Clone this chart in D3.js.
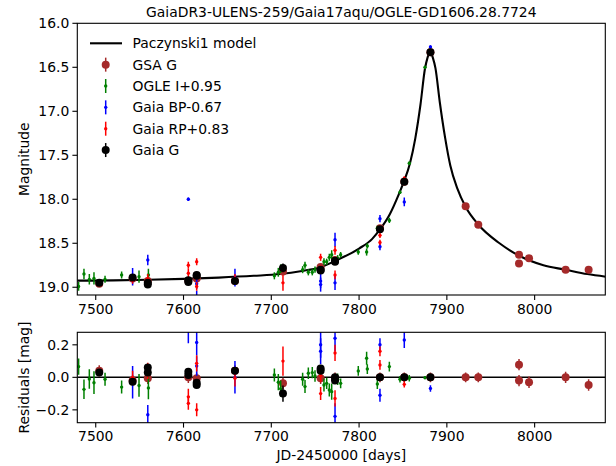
<!DOCTYPE html>
<html>
<head>
<meta charset="utf-8">
<script src="https://cdn.jsdelivr.net/npm/d3@7"></script>
<style>
  body { margin: 0; background: #fff; }
  text { font-family: "DejaVu Sans", sans-serif; }
</style>
</head>
<body>
<script>
//////////////////////////////////////////////////////////////////////////////
// Data: [day, magnitude, residual, error]

var gsaG = [
  [7504.0, 18.96, 0.040, 0.035], [7542.0, 18.90, -0.020, 0.035],
  [7559.3, 18.93, -0.006, 0.035], [7605.5, 18.93, 0.000, 0.035],
  [7615.0, 18.90, -0.005, 0.035], [7658.6, 18.93, 0.040, 0.035],
  [7713.3, 18.82, -0.037, 0.035], [7756.2, 18.77, -0.006, 0.035],
  [7772.6, 18.69, -0.005, 0.035], [7823.8, 18.33, 0.000, 0.03],
  [7851.5, 17.80, 0.000, 0.03], [7881.3, 16.33, 0.000, 0.03],
  [7921.4, 18.08, 0.000, 0.03], [7935.8, 18.29, 0.000, 0.03],
  [7982.2, 18.63, -0.020, 0.035], [7982.2, 18.73, 0.078, 0.035],
  [7993.6, 18.67, -0.030, 0.035], [8035.3, 18.80, 0.000, 0.035],
  [8061.5, 18.80, -0.047, 0.035]
];

var ogleI = [
  [7480.5, 18.99, 0.066, 0.05], [7486.6, 18.85, -0.074, 0.06],
  [7492.7, 18.91, -0.010, 0.06], [7498.0, 18.90, -0.033, 0.07],
  [7510.6, 18.91, -0.012, 0.04], [7529.5, 18.86, -0.060, 0.04],
  [7549.3, 18.88, -0.050, 0.07], [7560.0, 18.86, -0.065, 0.07],
  [7703.5, 18.87, 0.014, 0.04], [7708.0, 18.83, -0.030, 0.05],
  [7710.7, 18.79, -0.070, 0.05], [7735.7, 18.80, -0.012, 0.04],
  [7738.4, 18.75, -0.057, 0.04], [7742.2, 18.83, 0.025, 0.035],
  [7746.7, 18.83, 0.029, 0.035], [7749.8, 18.80, 0.008, 0.035],
  [7760.0, 18.71, -0.047, 0.04], [7763.1, 18.71, -0.037, 0.035],
  [7766.1, 18.66, -0.078, 0.04], [7768.8, 18.63, -0.088, 0.05],
  [7775.6, 18.67, -0.012, 0.035], [7779.0, 18.63, -0.037, 0.03],
  [7799.1, 18.60, 0.039, 0.03], [7808.6, 18.60, 0.117, 0.04],
  [7809.4, 18.53, 0.051, 0.03], [7820.8, 18.33, -0.041, 0.03],
  [7834.5, 18.24, 0.066, 0.03], [7846.6, 17.92, -0.012, 0.02],
  [7857.2, 17.59, -0.006, 0.02], [7875.1, 16.50, -0.002, 0.01]
];

var gaiaBP = [
  [7542.0, 18.88, -0.030, 0.10], [7559.3, 18.69, -0.230, 0.06],
  [7605.5, 18.00, -0.900, 0.02], [7605.5, 19.22, 0.310, 0.10],
  [7615.0, 19.12, 0.215, 0.08], [7615.0, 18.96, 0.070, 0.06],
  [7658.6, 18.89, 0.000, 0.10], [7756.2, 18.97, 0.200, 0.08],
  [7756.2, 18.93, 0.160, 0.08], [7772.6, 18.95, 0.240, 0.08],
  [7772.6, 18.46, -0.240, 0.08], [7823.8, 18.22, -0.110, 0.04],
  [7823.8, 18.54, 0.200, 0.04], [7851.5, 18.03, 0.230, 0.05],
  [7881.3, 16.27, -0.068, 0.02]
];

var gaiaRP = [
  [7542.0, 18.92, 0.000, 0.04], [7559.3, 18.90, 0.040, 0.05],
  [7605.5, 18.75, -0.160, 0.04], [7605.5, 18.84, -0.120, 0.05],
  [7615.0, 18.71, -0.200, 0.04], [7615.0, 18.99, 0.086, 0.05],
  [7658.6, 18.90, -0.006, 0.05], [7713.3, 18.95, 0.100, 0.09],
  [7756.2, 18.66, -0.100, 0.04], [7756.2, 18.79, 0.010, 0.04],
  [7772.6, 18.86, 0.150, 0.05], [7772.6, 18.58, -0.130, 0.05],
  [7823.8, 18.49, 0.160, 0.03], [7823.8, 18.41, 0.076, 0.03],
  [7851.5, 17.76, -0.043, 0.02]
];

var gaiaG = [
  [7504.0, 18.95, 0.029, 0.01], [7542.0, 18.89, -0.027, 0.01],
  [7559.3, 18.97, 0.060, 0.01], [7559.3, 18.95, 0.030, 0.01],
  [7605.5, 18.94, 0.035, 0.01], [7605.5, 18.92, 0.015, 0.01],
  [7615.0, 18.87, -0.033, 0.01], [7615.0, 18.86, -0.047, 0.01],
  [7658.6, 18.93, 0.040, 0.01], [7713.3, 18.78, -0.100, 0.05],
  [7756.2, 18.81, 0.055, 0.01], [7756.2, 18.80, 0.040, 0.01],
  [7772.6, 18.71, 0.000, 0.01], [7772.6, 18.70, -0.020, 0.01],
  [7823.8, 18.34, 0.000, 0.01], [7851.5, 17.80, 0.000, 0.01],
  [7881.3, 16.33, 0.000, 0.01]
];

// Paczynski1 model
var modelDays = [7479, 7520, 7560, 7600, 7640, 7680, 7710, 7735, 7755, 7775,
                 7800, 7815, 7824, 7835, 7845, 7851, 7858, 7864, 7870, 7875,
                 7878, 7881, 7884, 7887, 7892, 7898, 7904, 7912, 7921, 7936,
                 7960, 7983, 8010, 8035, 8060, 8081];
var modelMags = [18.925, 18.922, 18.915, 18.905, 18.89, 18.87, 18.85, 18.815, 18.775, 18.69,
                 18.56, 18.45, 18.34, 18.17, 17.95, 17.80, 17.59, 17.31, 16.92, 16.52,
                 16.39, 16.32, 16.39, 16.51, 16.90, 17.30, 17.62, 17.88, 18.08, 18.29,
                 18.50, 18.645, 18.75, 18.80, 18.85, 18.88];

var xTicks = [7500, 7600, 7700, 7800, 7900, 8000];
var magTicks = [16.0, 16.5, 17.0, 17.5, 18.0, 18.5, 19.0];
var resTicks = [0.2, 0.0, -0.2];

var series = [
  {name: "GSA G",        data: gsaG,   color: "#a52a2a", r: 4},
  {name: "OGLE I+0.95",  data: ogleI,  color: "#008000", r: 1.7},
  {name: "Gaia BP-0.67", data: gaiaBP, color: "#0000ff", r: 1.7},
  {name: "Gaia RP+0.83", data: gaiaRP, color: "#ff0000", r: 1.7},
  {name: "Gaia G",       data: gaiaG,  color: "#000000", r: 4}
];

//////////////////////////////////////////////////////////////////////////////
// Scales, panels

var width = 616, height = 466;
var left = 77.3, right = 605.3;
var top1 = 23.3, bot1 = 295;
var top2 = 332.3, bot2 = 422.7;
var fs = 13.9;

var x = d3.scaleLinear().domain([7479, 8080.5]).range([left, right]);
var yMag = d3.scaleLinear().domain([16.0, 19.088]).range([top1, bot1]);
var yRes = d3.scaleLinear().domain([-0.279, 0.277]).range([bot2, top2]);

var svg = d3.select("body").append("svg")
    .attr("width", width)
    .attr("height", height);

svg.append("rect").attr("width", width).attr("height", height).attr("fill", "#fff");

var defs = svg.append("defs");
defs.append("clipPath").attr("id", "clipTop").append("rect")
    .attr("x", left).attr("y", top1).attr("width", right - left).attr("height", bot1 - top1);
defs.append("clipPath").attr("id", "clipRes").append("rect")
    .attr("x", left).attr("y", top2).attr("width", right - left).attr("height", bot2 - top2);

function drawAxes(y0, y1, yScale, yTickVals, fmt) {
    var g = svg.append("g");
    xTicks.forEach(function(t) {
        g.append("line").attr("x1", x(t)).attr("x2", x(t)).attr("y1", y1).attr("y2", y1 + 4.9)
            .attr("stroke", "#000").attr("stroke-width", 1.1);
        g.append("text").attr("x", x(t)).attr("y", y1 + 18.5).attr("text-anchor", "middle")
            .attr("font-size", fs).text(t);
    });
    yTickVals.forEach(function(t) {
        g.append("line").attr("x1", left - 4.9).attr("x2", left).attr("y1", yScale(t)).attr("y2", yScale(t))
            .attr("stroke", "#000").attr("stroke-width", 1.1);
        g.append("text").attr("x", left - 8).attr("y", yScale(t)).attr("dy", "0.36em")
            .attr("text-anchor", "end").attr("font-size", fs).text(fmt(t));
    });
    g.append("rect").attr("x", left).attr("y", y0).attr("width", right - left).attr("height", y1 - y0)
        .attr("fill", "none").attr("stroke", "#000").attr("stroke-width", 1.1);
}

function fmtRes(t) { return t < 0 ? "\u2212" + d3.format(".1f")(-t) : d3.format(".1f")(t); }

//////////////////////////////////////////////////////////////////////////////
// Top panel: light curve

var topG = svg.append("g").attr("clip-path", "url(#clipTop)");

var modelPts = modelDays.map(function(d, i) { return [d, modelMags[i]]; });
var line = d3.line()
    .x(function(d) { return x(d[0]); })
    .y(function(d) { return yMag(d[1]); })
    .curve(d3.curveMonotoneX);

topG.append("path").datum(modelPts)
    .attr("d", line)
    .attr("fill", "none")
    .attr("stroke", "#000")
    .attr("stroke-width", 2.1);

function drawPoints(g, s, yScale, valIdx) {
    var pts = g.append("g").selectAll("g").data(s.data).enter().append("g");
    pts.append("line")
        .attr("x1", function(d) { return x(d[0]); })
        .attr("x2", function(d) { return x(d[0]); })
        .attr("y1", function(d) { return yScale(d[valIdx] - d[3]); })
        .attr("y2", function(d) { return yScale(d[valIdx] + d[3]); })
        .attr("stroke", s.color)
        .attr("stroke-width", 1.5);
    pts.append("circle")
        .attr("cx", function(d) { return x(d[0]); })
        .attr("cy", function(d) { return yScale(d[valIdx]); })
        .attr("r", s.r)
        .attr("fill", s.color);
}

series.forEach(function(s) { drawPoints(topG, s, yMag, 1); });

drawAxes(top1, bot1, yMag, magTicks, d3.format(".1f"));

//////////////////////////////////////////////////////////////////////////////
// Bottom panel: residuals

var resG = svg.append("g").attr("clip-path", "url(#clipRes)");
resG.append("line")
    .attr("x1", left).attr("x2", right)
    .attr("y1", yRes(0)).attr("y2", yRes(0))
    .attr("stroke", "#000").attr("stroke-width", 1.5);

series.forEach(function(s) { drawPoints(resG, s, yRes, 2); });

drawAxes(top2, bot2, yRes, resTicks, fmtRes);

//////////////////////////////////////////////////////////////////////////////
// Legend

var leg = svg.append("g");
var legY0 = 43.3, legStep = 21.35;
leg.append("line").attr("x1", 90).attr("x2", 122).attr("y1", legY0).attr("y2", legY0)
    .attr("stroke", "#000").attr("stroke-width", 2.1);
leg.append("text").attr("x", 132.5).attr("y", legY0).attr("dy", "0.36em")
    .attr("font-size", fs).text("Paczynski1 model");
series.forEach(function(s, i) {
    var yy = legY0 + legStep * (i + 1);
    leg.append("line").attr("x1", 105.7).attr("x2", 105.7).attr("y1", yy - 7).attr("y2", yy + 7)
        .attr("stroke", s.color).attr("stroke-width", 1.5);
    leg.append("circle").attr("cx", 105.7).attr("cy", yy).attr("r", s.r).attr("fill", s.color);
    leg.append("text").attr("x", 132.5).attr("y", yy).attr("dy", "0.36em")
        .attr("font-size", fs).text(s.name);
});

//////////////////////////////////////////////////////////////////////////////
// Titles, labels

svg.append("text").attr("x", (left + right) / 2).attr("y", 17).attr("text-anchor", "middle")
    .attr("font-size", fs).text("GaiaDR3-ULENS-259/Gaia17aqu/OGLE-GD1606.28.7724");
svg.append("text").attr("x", (left + right) / 2).attr("y", 460).attr("text-anchor", "middle")
    .attr("font-size", fs).text("JD-2450000 [days]");
svg.append("text").attr("transform", "translate(29," + (top1 + bot1) / 2 + ") rotate(-90)")
    .attr("text-anchor", "middle").attr("font-size", fs).text("Magnitude");
svg.append("text").attr("transform", "translate(29," + (top2 + bot2) / 2 + ") rotate(-90)")
    .attr("text-anchor", "middle").attr("font-size", fs).text("Residuals [mag]");
</script>
</body>
</html>
